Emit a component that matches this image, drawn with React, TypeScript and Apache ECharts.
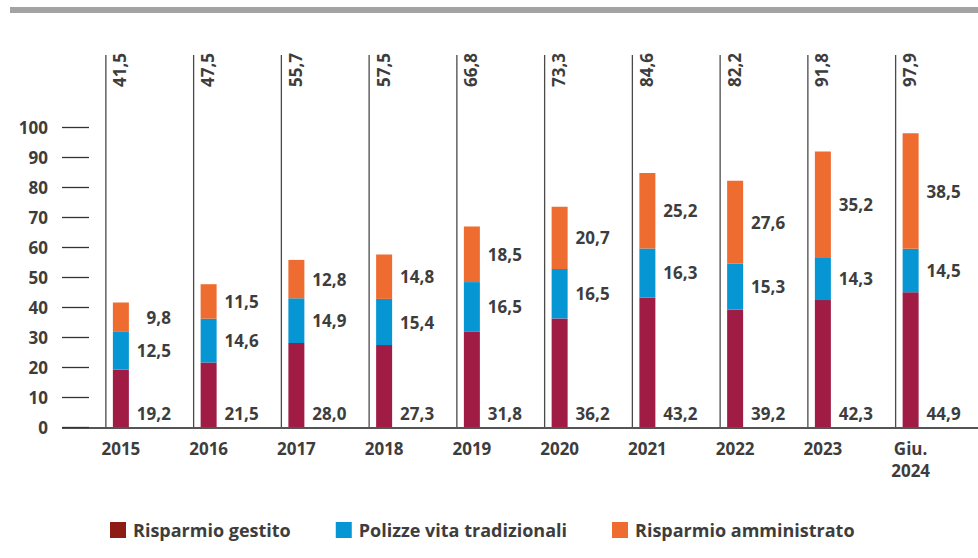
import React, { useEffect, useRef } from "react";
import * as echarts from "echarts";

const categories = ["2015", "2016", "2017", "2018", "2019", "2020", "2021", "2022", "2023", "Giu.\n2024"];
const gestito = [19.2, 21.5, 28.0, 27.3, 31.8, 36.2, 43.2, 39.2, 42.3, 44.9];
const polizze = [12.5, 14.6, 14.9, 15.4, 16.5, 16.5, 16.3, 15.3, 14.3, 14.5];
const amministrato = [9.8, 11.5, 12.8, 14.8, 18.5, 20.7, 25.2, 27.6, 35.2, 38.5];
const totals = [41.5, 47.5, 55.7, 57.5, 66.8, 73.3, 84.6, 82.2, 91.8, 97.9];
const yTicks = { min: 0, max: 100, interval: 10 };

const FONT = "'Open Sans', 'Noto Sans', sans-serif";
const TXT = "#3d3d3d";
const FS = 17;
const FW = 700;
const fmt = (v: number) => v.toFixed(1).replace(".", ",");

export default function App() {
  const ref = useRef<HTMLDivElement>(null);
  useEffect(() => {
    document.body.style.margin = "0";
    const chart = echarts.init(ref.current!, undefined, { renderer: "svg" });
    const labelBase = {
      show: true,
      align: "right",
      verticalAlign: "middle",
      color: TXT,
      fontFamily: FONT,
      fontSize: FS,
      fontWeight: FW,
      formatter: (p: any) => fmt(p.value),
    };
    const option: any = {
      animation: false,
      backgroundColor: "#ffffff",
      textStyle: { fontFamily: FONT },
      grid: { left: 77, right: 23.5, top: 127, bottom: 131, containLabel: false },
      legend: {
        left: 105,
        top: 516,
        itemWidth: 16,
        itemHeight: 16,
        itemGap: 45,
        icon: "rect",
        textStyle: { color: TXT, fontFamily: FONT, fontSize: 18, fontWeight: FW, padding: [0, 0, 0, 2] },
        data: [
          { name: "Risparmio gestito", itemStyle: { color: "#8c1c14" } },
          { name: "Polizze vita tradizionali", itemStyle: { color: "#0596d3" } },
          { name: "Risparmio amministrato", itemStyle: { color: "#ef6c30" } },
        ],
      },
      xAxis: {
        type: "category",
        data: categories,
        axisLine: { show: false },
        axisTick: { show: false },
        axisLabel: { color: TXT, fontFamily: FONT, fontSize: FS, fontWeight: FW, margin: 10, lineHeight: 22, interval: 0 },
      },
      yAxis: {
        type: "value",
        min: yTicks.min,
        max: yTicks.max,
        interval: yTicks.interval,
        offset: -12,
        splitLine: { show: false },
        axisLine: { show: false },
        axisTick: { show: true, length: 27, lineStyle: { color: "#333333", width: 1.3 } },
        axisLabel: { color: TXT, fontFamily: FONT, fontSize: FS, fontWeight: FW, margin: 41 },
      },
      graphic: [
        { type: "rect", left: 10, top: 7, shape: { width: 968, height: 6 }, style: { fill: "#a3a3a3" }, silent: true },
        { type: "line", shape: { x1: 62, y1: 428, x2: 978, y2: 428 }, style: { stroke: "#555555", lineWidth: 2 }, silent: true },
      ],
      series: [
        {
          name: "Risparmio gestito",
          type: "bar",
          stack: "tot",
          barWidth: 16,
          data: gestito,
          itemStyle: { color: "#a11c45" },
          label: { ...labelBase, position: [58, "100%"], offset: [0, -14] },
        },
        {
          name: "Polizze vita tradizionali",
          type: "bar",
          stack: "tot",
          barWidth: 16,
          data: polizze,
          itemStyle: { color: "#0596d3" },
          label: { ...labelBase, position: [58, "50%"] },
        },
        {
          name: "Risparmio amministrato",
          type: "bar",
          stack: "tot",
          barWidth: 16,
          data: amministrato,
          itemStyle: { color: "#ef6c30" },
          label: { ...labelBase, position: [58, "50%"] },
        },
        {
          name: "Totale",
          type: "custom",
          clip: false,
          silent: true,
          data: totals.map((t, i) => [i, t]),
          renderItem: (params: any, api: any) => {
            const p = api.coord([api.value(0), 0]);
            const top = params.coordSys.y - 72;
            return {
              type: "group",
              children: [
                {
                  type: "line",
                  shape: { x1: p[0] - 15, y1: top, x2: p[0] - 15, y2: p[1] },
                  style: { stroke: "#4a4a4a", lineWidth: 1.3 },
                },
                {
                  type: "text",
                  x: p[0] - 1,
                  y: top - 2,
                  rotation: Math.PI / 2,
                  style: {
                    text: fmt(api.value(1)),
                    x: 0,
                    y: 0,
                    align: "right",
                    verticalAlign: "middle",
                    fill: TXT,
                    fontFamily: FONT,
                    fontSize: FS,
                    fontWeight: FW,
                  },
                },
              ],
            };
          },
        },
      ],
    };
    chart.setOption(option);
    return () => chart.dispose();
  }, []);
  return <div ref={ref} style={{ width: 978, height: 558 }} />;
}
